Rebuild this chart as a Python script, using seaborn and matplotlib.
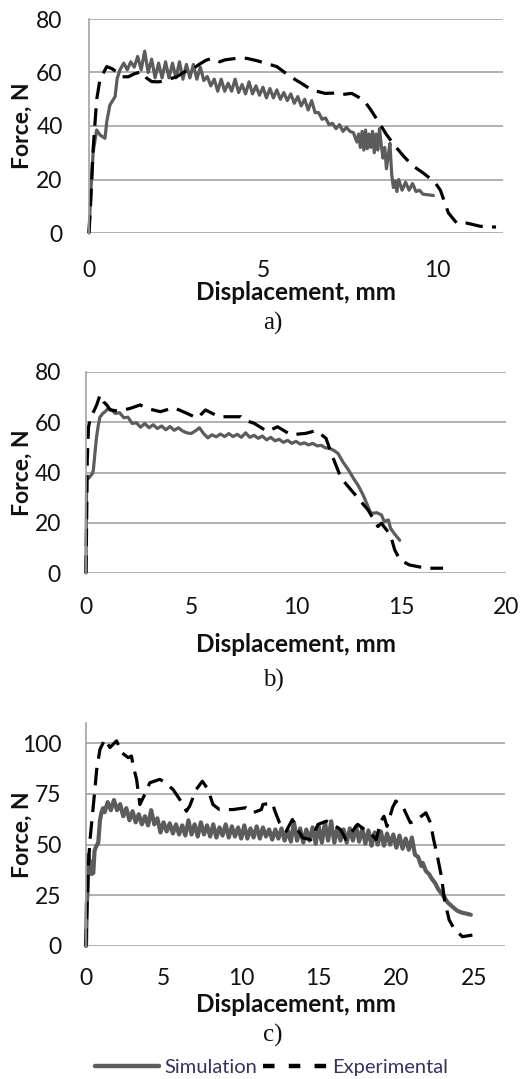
import numpy as np
import pandas as pd
import matplotlib
matplotlib.use("Agg")
import matplotlib.pyplot as plt
from matplotlib.lines import Line2D
import seaborn as sns

# ---------------- data ----------------
# Panel a)
sim_a_x = [0, 0.05, 0.12, 0.22, 0.32, 0.46, 0.51, 0.6, 0.75, 0.81, 0.89,
           1.0, 1.1, 1.2, 1.3, 1.4, 1.5, 1.6, 1.7, 1.8, 1.9, 2.0, 2.1, 2.2, 2.3, 2.4,
           2.5, 2.6, 2.7, 2.8, 2.9, 3.0, 3.1, 3.2, 3.3, 3.4, 3.5, 3.6, 3.7, 3.8, 3.9,
           4.0, 4.1, 4.2, 4.3, 4.4, 4.5, 4.6, 4.7, 4.8, 4.9, 5.0, 5.1, 5.2, 5.3, 5.4,
           5.5, 5.6, 5.7, 5.8, 5.9, 6.0, 6.1, 6.2, 6.3, 6.4, 6.5, 6.6, 6.7, 6.8, 6.9,
           7.0, 7.1, 7.2, 7.3, 7.4, 7.5, 7.6, 7.7, 7.75, 7.8, 7.85, 7.9, 7.95, 8.0,
           8.05, 8.1, 8.15, 8.2, 8.25, 8.3, 8.35, 8.4, 8.45, 8.5, 8.55, 8.6, 8.65,
           8.7, 8.75, 8.8, 8.85, 8.9, 9.0, 9.1, 9.2, 9.3, 9.4, 9.5, 9.6, 9.8, 9.9]
sim_a_y = [0, 15, 30.4, 38.5, 36.6, 35.4, 41.6, 47.8, 51, 57.8, 61,
           63.5, 61, 64, 62, 66, 61, 68, 60, 65, 58, 63.5, 58, 64, 58, 63.5,
           58, 64, 57.5, 63, 58, 63, 57.5, 62, 57, 58.5, 55, 57.5, 53, 57.5, 53,
           56, 53, 57.5, 52.5, 55.5, 52, 56.5, 52, 55, 51.5, 54.5, 50.5, 54, 50.5, 53.5,
           50, 52.5, 49.5, 52, 48.5, 51, 47.5, 50, 46, 49.5, 45, 45, 42.5, 43, 40.5,
           41, 39, 40.5, 38, 39.5, 38, 37.5, 34, 37, 32, 38, 31, 38.5, 31.5,
           37, 32, 38, 30, 37, 31, 39, 33, 28, 32, 24, 29, 33.5,
           22, 17, 19.5, 15.5, 20, 16, 19, 16, 18.5, 15.5, 16, 14.5, 14.2, 14]

exp_a_x = [0, 0.05, 0.12, 0.22, 0.32, 0.42, 0.51, 0.65, 0.79, 0.94, 1.13, 1.3,
           1.51, 1.65, 1.8, 2.0, 2.13, 2.3, 2.52, 2.76, 2.95, 3.14, 3.35, 3.53,
           3.76, 3.9, 4.24, 4.53, 4.8, 5.1, 5.4, 5.78, 6.1, 6.4, 6.78, 7.1, 7.3,
           7.55, 7.9, 8.1, 8.35, 8.55, 8.8, 9.05, 9.3, 9.6, 9.94, 10.1, 10.33,
           10.57, 10.86, 11.25, 11.7]
exp_a_y = [0, 12, 31.6, 49.8, 57.8, 60, 62.2, 61.5, 60.3, 58.4, 58.4, 59.5,
           60.3, 58, 56.6, 56.5, 56.8, 57.5, 58.4, 60.3, 61, 62.8, 64.5, 65.3,
           64, 64.7, 65.3, 65.3, 64.5, 63.4, 62.2, 58.5, 56, 53.5, 52.2, 52.3, 51.8,
           52.2, 49.7, 46, 41, 36.8, 32.5, 28.6, 25.2, 22.5, 19, 16, 7.5,
           3.7, 3.7, 2.5, 2.2]

# Panel b)
sim_b_x = [0, 0.03, 0.1, 0.19, 0.3, 0.35, 0.43, 0.5, 0.58, 0.66, 0.8, 0.95, 1.05,
           1.2, 1.4, 1.6, 1.8, 2.0, 2.2, 2.4, 2.6, 2.8, 3.0, 3.2, 3.4, 3.6, 3.8,
           4.0, 4.2, 4.4, 4.6, 4.8, 5.0, 5.2, 5.4, 5.6, 5.8, 6.0, 6.2, 6.4, 6.6,
           6.8, 7.0, 7.2, 7.4, 7.6, 7.8, 8.0, 8.2, 8.4, 8.6, 8.8, 9.0, 9.2, 9.4,
           9.6, 9.8, 10.0, 10.2, 10.4, 10.6, 10.8, 11.0, 11.2, 11.4, 11.6, 11.8,
           12.0, 12.25, 12.5, 12.75, 12.95, 13.2, 13.43, 13.55, 13.67, 13.85,
           14.07, 14.2, 14.4, 14.5, 14.7, 14.94]
sim_b_y = [0, 38.4, 37.5, 38.4, 39.5, 41, 48, 54, 58.5, 62, 63.5, 64.5, 65.5,
           65, 63.5, 63.8, 61.8, 62, 59.5, 59.8, 58, 59.5, 57.8, 59, 57.5, 58.5, 57,
           58.3, 56.8, 57.8, 56.5, 55.8, 55.5, 56.5, 57.8, 55.5, 53.8, 55, 54.2, 55.3, 54.3,
           55.5, 54.3, 55.2, 54, 55.8, 54, 54.8, 53.6, 54.5, 53, 54, 52.6, 53.2, 52,
           52.8, 51.6, 52.4, 51.3, 51.8, 51, 51.6, 50.6, 50.8, 49.8, 49.6, 48.8,
           47.6, 44, 41, 37.5, 35, 31, 26.4, 24, 23.8, 24,
           23.1, 20.5, 21.1, 17.8, 15.5, 13]

exp_b_x = [0, 0.03, 0.06, 0.12, 0.19, 0.35, 0.51, 0.67, 0.85, 0.99, 1.15, 1.5,
           1.79, 2.1, 2.58, 2.9, 3.54, 4.18, 4.82, 5.3, 5.69, 6.33, 7.05, 7.37,
           7.53, 8.0, 8.64, 9.12, 9.76, 10.48, 10.96, 11.43, 11.68, 12.15, 12.63,
           13.43, 13.9, 14.07, 14.5, 14.7, 14.95, 15.4, 16.2, 17.0]
exp_b_y = [0, 20, 45, 58, 61, 64, 66.9, 70.9, 68, 66.9, 64.9, 64.5,
           64.9, 65.5, 66.9, 65.5, 64.2, 65.8, 63.5, 61.6, 64.9, 62.2, 62.2, 62.2,
           60.9, 59.6, 56.3, 58.2, 55, 55.6, 56.7, 53.6, 47.6, 37.7, 33,
           25.1, 18.5, 19.8, 15.1, 9.2, 5.2, 3.2, 1.9, 1.9]

# Panel c)
sim_c_x = [0, 0.05, 0.1, 0.15, 0.2, 0.26, 0.35, 0.47, 0.55, 0.65, 0.79, 0.9, 1.0, 1.1,
           1.2, 1.4, 1.6, 1.8, 2.0, 2.2, 2.4, 2.6, 2.8, 3.0, 3.2, 3.4, 3.6, 3.8,
           4.0, 4.2, 4.4, 4.6, 4.8, 5.0, 5.2, 5.4, 5.6, 5.8, 6.0, 6.2, 6.4, 6.6,
           6.8, 7.0, 7.2, 7.4, 7.6, 7.8, 8.0, 8.2, 8.4, 8.6, 8.8, 9.0, 9.2, 9.4,
           9.6, 9.8, 10.0, 10.2, 10.4, 10.6, 10.8, 11.0, 11.2, 11.4, 11.6, 11.8,
           12.0, 12.2, 12.4, 12.6, 12.8, 13.0, 13.2, 13.4, 13.6, 13.8, 14.0, 14.2,
           14.4, 14.6, 14.8, 15.0, 15.2, 15.4, 15.6, 15.8, 16.0, 16.2, 16.4, 16.6,
           16.8, 17.0, 17.2, 17.4, 17.6, 17.8, 18.0, 18.2, 18.4, 18.6, 18.8, 19.0,
           19.2, 19.4, 19.6, 19.8, 20.0, 20.2, 20.4, 20.6, 20.8, 21.0, 21.2, 21.4,
           21.6, 21.7, 21.9, 22.1, 22.3, 22.5, 22.7, 22.9, 23.1, 23.3, 23.6, 23.9,
           24.2, 24.5, 24.8]
sim_c_y = [0, 20, 27, 45, 38, 42, 35.5, 36, 47, 49, 51, 62, 66, 68,
           66, 71, 67, 72, 67, 70, 64, 68, 62, 66.5, 61, 65, 60, 64,
           59.5, 67, 60, 63, 56, 61, 56.5, 60.5, 55.5, 60, 55, 59.5, 54.5, 62,
           55, 60, 54, 61, 55, 59.5, 54, 60, 53.5, 58.5, 54.5, 60, 53.5, 59,
           54, 58.5, 53, 59.5, 53, 58, 53.5, 59, 53, 58.5, 54, 57.5,
           52.5, 57.5, 53, 58, 52, 57, 51.5, 61, 52, 58, 51, 57.5,
           52, 58.5, 50.5, 59, 51, 61, 52, 61.5, 51, 58, 52, 57.5,
           51, 58, 52, 59, 51.5, 58, 50.5, 57, 49.5, 56, 50, 56.5,
           49.5, 55.5, 50, 55, 48.5, 54.5, 48, 53, 47.5, 53.5, 45, 44,
           39.5, 41, 37, 35.5, 33, 31, 28, 26, 24, 21.5, 19.5, 17.5,
           16.5, 16, 15.4]

exp_c_x = [0, 0.05, 0.15, 0.26, 0.47, 0.69, 0.9, 1.22, 1.54, 1.97, 2.3, 2.72, 2.93,
           3.04, 3.26, 3.47, 3.79, 4.11, 4.75, 4.97, 5.61, 6.04, 6.47, 6.68, 7.1,
           7.5, 7.86, 8.18, 8.6, 9.47, 10.3, 10.75, 11.3, 11.4, 12.0, 12.2, 12.47,
           12.9, 13.3, 13.6, 13.97, 14.5, 14.95, 15.5, 16.1, 16.4, 16.75, 17.1,
           17.5, 17.8, 18.4, 18.7, 19.0, 19.2, 19.4, 19.75, 19.96, 20.4, 20.6,
           20.9, 21.2, 21.9, 22.2, 22.4, 22.6, 22.9, 23.1, 23.4, 23.7, 24.25, 24.9]
exp_c_y = [0, 16, 39.3, 52.5, 69, 87.1, 97, 102, 97.9, 101.2, 95.4, 92.9, 93.7,
           88.8, 82.2, 69.8, 74.8, 80.5, 82.2, 81.3, 77.2, 72.3, 66.5, 69, 77.2,
           81.3, 77.2, 69.8, 67.3, 67.3, 68.2, 65.7, 67.3, 69.8, 70.6, 66, 60.8,
           56.6, 62.4, 58, 53.3, 52.5, 60, 61.6, 59, 57.5, 52.5, 56,
           60, 58.3, 55, 52.5, 61.6, 64, 59, 68.2, 71.5, 69, 65.7,
           60.8, 61.6, 65.7, 60.8, 52.5, 45.9, 34.4, 22.8, 12.9, 8.8, 4.6, 5.4]

legend_labels = ["Simulation", "Experimental"]
captions = ["a)", "b)", "c)"]
x_label = "Displacement, mm"
y_label = "Force, N"

# ---------------- style ----------------
sns.set_theme(style="white")
plt.rcParams["font.family"] = ["Lato", "DejaVu Sans"]

SIM_COLOR = "#5c5c5c"
EXP_COLOR = "#000000"
GRID_COLOR = "#a3a3a3"
LW = 2.3
TXT = "#111111"

fig = plt.figure(figsize=(5.24, 10.79), dpi=100)
W, H = 524.0, 1079.0


def make_axes(left, right, top, bottom):
    return fig.add_axes([left / W, 1 - bottom / H, (right - left) / W, (bottom - top) / H])


panels = [
    dict(box=(89, 503, 19, 233), xlim=(0, 11.9), ylim=(0, 80), xt=[0, 5, 10],
         yt=[0, 20, 40, 60, 80], sim=(sim_a_x, sim_a_y), exp=(exp_a_x, exp_a_y),
         xpad=19.5, ypad=19, xlab_y=293, ylab_x=22.5, cap_y=323, sim_lw=LW),
    dict(box=(86, 506, 372, 573), xlim=(0, 20), ylim=(0, 80), xt=[0, 5, 10, 15, 20],
         yt=[0, 20, 40, 60, 80], sim=(sim_b_x, sim_b_y), exp=(exp_b_x, exp_b_y),
         xpad=17.5, ypad=18, xlab_y=645, ylab_x=22.5, cap_y=680, sim_lw=LW),
    dict(box=(86, 505, 723, 946), xlim=(0, 27), ylim=(0, 110), xt=[0, 5, 10, 15, 20, 25],
         yt=[0, 25, 50, 75, 100], sim=(sim_c_x, sim_c_y), exp=(exp_c_x, exp_c_y),
         xpad=16, ypad=17.5, xlab_y=1004, ylab_x=22.5, cap_y=1035, sim_lw=3.0),
]

for p, cap in zip(panels, captions):
    l, r, t, b = p["box"]
    ax = make_axes(l, r, t, b)
    sim_df = pd.DataFrame({"x": p["sim"][0], "y": p["sim"][1]})
    exp_df = pd.DataFrame({"x": p["exp"][0], "y": p["exp"][1]})
    sns.lineplot(data=sim_df, x="x", y="y", ax=ax, color=SIM_COLOR, lw=p["sim_lw"],
                 estimator=None, sort=False, solid_joinstyle="round")
    sns.lineplot(data=exp_df, x="x", y="y", ax=ax, color=EXP_COLOR, lw=LW,
                 estimator=None, sort=False)
    ax.lines[-1].set_dashes((5.5, 2.9))
    ax.lines[-1].set_dash_capstyle("butt")
    for ln in ax.lines:
        ln.set_clip_on(False)

    ax.set_xlim(*p["xlim"])
    ax.set_ylim(*p["ylim"])
    ax.set_xticks(p["xt"])
    ax.set_yticks(p["yt"])
    ax.yaxis.grid(True, color=GRID_COLOR, lw=1.2)
    ax.xaxis.grid(False)
    ax.set_axisbelow(True)
    for s in ["top", "right", "bottom"]:
        ax.spines[s].set_visible(False)
    ax.spines["left"].set_color(GRID_COLOR)
    ax.spines["left"].set_linewidth(1.2)
    ax.tick_params(axis="x", length=0, pad=p["xpad"], labelsize=16.5, labelcolor=TXT)
    ax.tick_params(axis="y", length=0, pad=p["ypad"], labelsize=16.5, labelcolor=TXT)

    ax.set_xlabel(x_label, fontsize=17.5, fontweight="bold", va="center", color=TXT)
    ax.xaxis.set_label_coords(0.5, (b - p["xlab_y"]) / (b - t))
    ax.set_ylabel(y_label, fontsize=16.5, fontweight="bold", va="center", color=TXT)
    ax.yaxis.set_label_coords((p["ylab_x"] - l) / (r - l), 0.5)

    fig.text(273 / W, 1 - p["cap_y"] / H, cap, ha="center", va="center",
             fontsize=18, family=["Liberation Serif"], color=TXT)

handles = [Line2D([], [], color=SIM_COLOR, lw=3.2),
           Line2D([], [], color=EXP_COLOR, lw=3.2, dashes=(2.6, 3.2), dash_capstyle="butt")]
fig.legend(handles, legend_labels, loc="center", bbox_to_anchor=(271.5 / W, 1 - 1067 / H),
           ncol=2, frameon=False, fontsize=14.5, handlelength=3.2, handletextpad=0.25,
           columnspacing=0.3, labelcolor="#3a3160")

fig.savefig("out.png", dpi=100)
